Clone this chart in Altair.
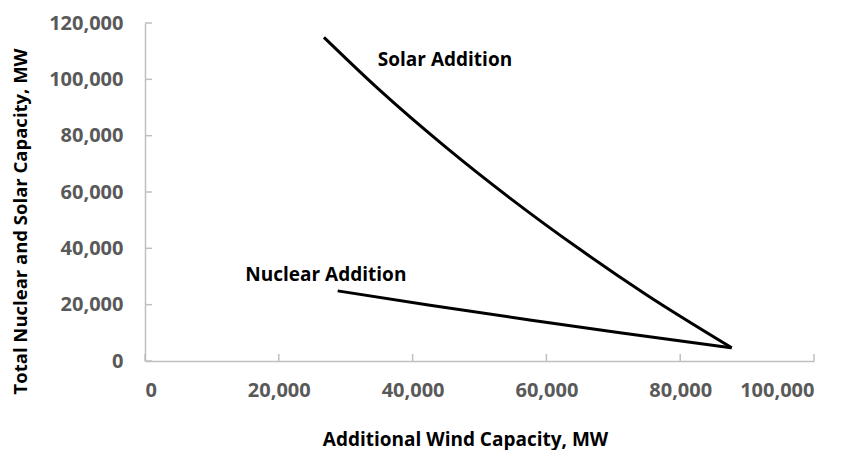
import altair as alt
import pandas as pd

# Solar addition curve (wind MW, total MW)
solar_x = [26750, 35000, 45000, 55000, 65000, 75000, 87700]
solar_y = [114900, 96340, 75840, 57040, 39640, 23440, 4700]

# Nuclear addition curve
nuclear_x = [28800, 42600, 57500, 71000, 87700]
nuclear_y = [24900, 19800, 14580, 10060, 4700]

x_ticks = [0, 20000, 40000, 60000, 80000, 100000]
y_ticks = [0, 20000, 40000, 60000, 80000, 100000, 120000]

label_text = ["Solar Addition", "Nuclear Addition"]
label_x = [34800, 15000]
label_y = [107000, 30400]

FONT = "Open Sans"

df = pd.concat([
    pd.DataFrame({"wind": solar_x, "cap": solar_y, "series": "Solar", "order": range(len(solar_x))}),
    pd.DataFrame({"wind": nuclear_x, "cap": nuclear_y, "series": "Nuclear", "order": range(len(nuclear_x))}),
])

xscale = alt.Scale(domain=[0, 100000], nice=False)
yscale = alt.Scale(domain=[0, 120000], nice=False)

lines = alt.Chart(df).mark_line(color="black", strokeWidth=3, interpolate="monotone").encode(
    x=alt.X("wind:Q", scale=xscale,
            axis=alt.Axis(values=x_ticks, format=",.0f", title="Additional Wind Capacity, MW",
                          grid=False, ticks=False, domainColor="#BFBFBF", domainWidth=1.5,
                          labelFont=FONT, labelFontSize=20, labelFontWeight="bold",
                          labelColor="#595959", labelPadding=19,
                          titleFont=FONT, titleFontSize=19, titleFontWeight="bold",
                          titleColor="black", titlePadding=30, titleX=320)),
    y=alt.Y("cap:Q", scale=yscale,
            axis=alt.Axis(values=y_ticks, format=",.0f", title="Total Nuclear and Solar Capacity, MW",
                          grid=False, ticks=False, domainColor="#BFBFBF", domainWidth=1.5,
                          labelFont=FONT, labelFontSize=20, labelFontWeight="bold",
                          labelColor="#595959", labelPadding=22,
                          titleFont=FONT, titleFontSize=18.5, titleFontWeight="bold",
                          titleColor="black", titlePadding=18, titleY=198)),
    detail="series:N",
    order="order:Q",
)

xt = alt.Chart(pd.DataFrame({"t": x_ticks})).mark_rule(color="#BFBFBF", strokeWidth=1.5).encode(
    x=alt.X("t:Q", scale=xscale), y=alt.value(338), y2=alt.value(331))
yt = alt.Chart(pd.DataFrame({"t": y_ticks})).mark_rule(color="#BFBFBF", strokeWidth=1.5).encode(
    y=alt.Y("t:Q", scale=yscale), x=alt.value(0), x2=alt.value(7))

labels = alt.Chart(pd.DataFrame({"text": label_text, "x": label_x, "y": label_y})).mark_text(
    align="left", baseline="middle", font=FONT, fontSize=19, fontWeight="bold", color="black"
).encode(x=alt.X("x:Q", scale=xscale), y=alt.Y("y:Q", scale=yscale), text="text:N")

chart = alt.layer(lines, xt, yt, labels).properties(
    width=669, height=338,
    autosize=alt.AutoSizeParams(type="none"),
    padding={"left": 137, "top": 15, "right": 30, "bottom": 90},
).configure_view(stroke=None)

chart.save("out.html", embed_options={"renderer": "svg", "actions": False})
